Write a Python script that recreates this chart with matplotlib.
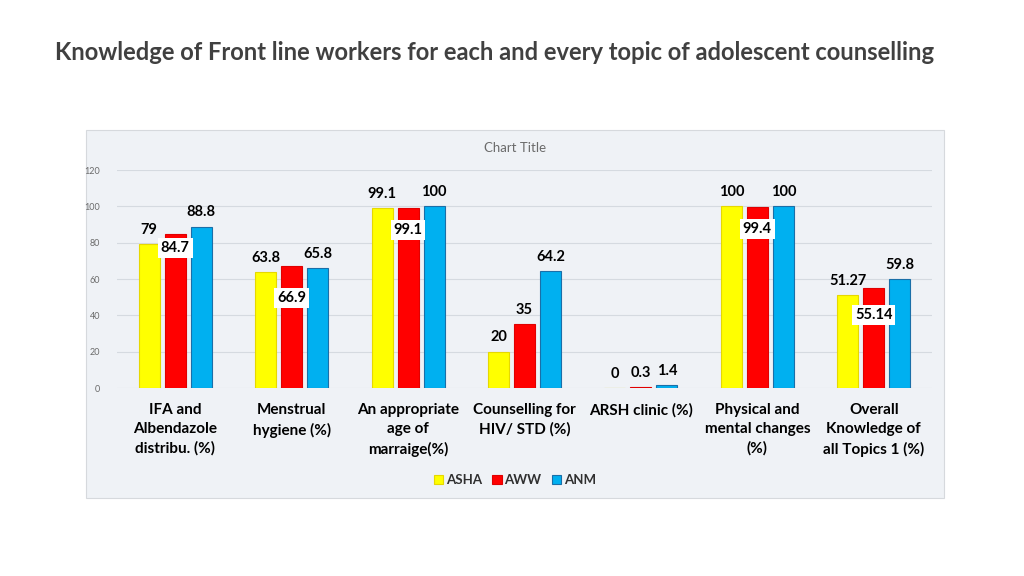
import matplotlib.pyplot as plt
import matplotlib.patches as patches
import numpy as np

plt.rcParams['font.family'] = ['Lato', 'DejaVu Sans']

# Data
categories = ["IFA and\nAlbendazole\ndistribu. (%)", "Menstrual\nhygiene (%)",
              "An appropriate\nage of\nmarraige(%)", "Counselling for\nHIV/ STD (%)",
              "ARSH clinic (%)", "Physical and\nmental changes\n(%)",
              "Overall\nKnowledge of\nall Topics 1 (%)"]
asha = [79, 63.8, 99.1, 20, 0, 100, 51.27]
aww = [84.7, 66.9, 99.1, 35, 0.3, 99.4, 55.14]
anm = [88.8, 65.8, 100, 64.2, 1.4, 100, 59.8]
series_names = ["ASHA", "AWW", "ANM"]

# label placement for AWW (boxed inside bar where it collides)
aww_boxed = [True, True, True, False, False, True, True]
aww_box_drop = [7.7, 17.4, 12, 0, 0, 12, 15]

colors = ['#FFFF00', '#FF0000', '#00B0F0']
edges = ['#E6D800', '#E00000', '#1A6FA8']

W, H = 1024, 576
fig = plt.figure(figsize=(W / 100, H / 100), dpi=100)

# chart area background
bg = patches.Rectangle((86 / W, 1 - 498 / H), (944 - 86) / W, (498 - 130) / H,
                       transform=fig.transFigure, facecolor='#eff2f6',
                       edgecolor='#d6d9dd', linewidth=0.8, zorder=-1)
fig.patches.append(bg)

fig.text(55 / W, 1 - 53 / H,
         "Knowledge of Front line workers for each and every topic of adolescent counselling",
         ha='left', va='center', fontsize=17.1, fontweight='bold', color='#404040')
fig.text(515 / W, 1 - 148 / H, "Chart Title", ha='center', va='center',
         fontsize=9.5, color='#6b6b6b')

ax = fig.add_axes([117 / W, 1 - 388 / H, 815 / W, 218 / H])
ax.patch.set_alpha(0)
x = np.arange(len(categories))
bw = 0.18
step = 0.223
all_vals = [asha, aww, anm]
for i, vals in enumerate(all_vals):
    ax.bar(x + (i - 1) * step, vals, width=bw, color=colors[i], edgecolor=edges[i],
           linewidth=0.8, label=series_names[i], zorder=3)

for i, vals in enumerate(all_vals):
    for j, v in enumerate(vals):
        xx = x[j] + (i - 1) * step
        lab = f"{v:g}"
        if i == 1 and aww_boxed[j]:
            ax.text(xx, v - aww_box_drop[j], lab, ha='center', va='center',
                    fontsize=10.5, fontweight='bold', color='black', zorder=5,
                    bbox=dict(boxstyle='square,pad=0.2', facecolor='white', edgecolor='none'))
        else:
            ax.text(xx, v + 4, lab, ha='center', va='bottom', fontsize=10.5,
                    fontweight='bold', color='black', zorder=5)

ax.set_xlim(-0.5, len(categories) - 0.5)
ax.set_ylim(0, 120)
ax.set_yticks(range(0, 121, 20))
ax.tick_params(axis='y', labelsize=6.5, labelcolor='#6b6b6b', length=0, pad=12)
ax.set_xticks(x)
ax.set_xticklabels(categories, fontsize=11, fontweight='bold', linespacing=1.45,
                   va='top')
ax.tick_params(axis='x', length=0, pad=11)
ax.grid(axis='y', color='#d5dae0', linewidth=0.8, zorder=0)
for s in ax.spines.values():
    s.set_visible(False)

leg = ax.legend(loc='center', bbox_to_anchor=(0.488, 1 - (480 - 170) / 218),
                ncol=3, frameon=False, handlelength=0.7,
                handleheight=0.7, handletextpad=0.2, columnspacing=0.8,
                prop={'weight': 'bold', 'size': 9.5})
for t in leg.get_texts():
    t.set_color('#303030')

fig.savefig('out.png', dpi=100)
